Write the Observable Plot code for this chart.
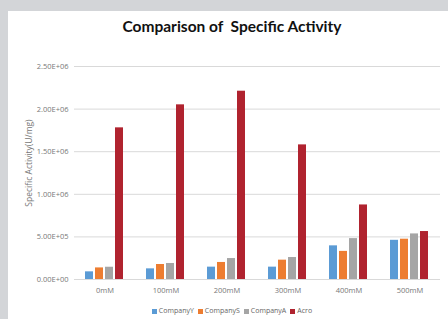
<!DOCTYPE html>
<html><head><meta charset="utf-8">
<script src="https://cdn.jsdelivr.net/npm/d3@7"></script>
<script src="https://cdn.jsdelivr.net/npm/@observablehq/plot@0.6"></script>
<style>
html,body{margin:0;padding:0;background:#d3d5d8;width:448px;height:319px;overflow:hidden;}
#panel{position:absolute;left:8px;top:11px;width:440px;height:308px;background:#fff;}
#title{position:absolute;left:0;top:6px;width:448px;text-align:center;font:bold 15.5px Lato,"Open Sans",sans-serif;color:#111;white-space:pre;}
#chart{position:absolute;left:0;top:35px;}
#legend{position:absolute;left:0;top:295px;width:448px;text-align:center;font:7px "Open Sans",sans-serif;color:#666;}
#legend span{margin:0 2px;}
#legend i{display:inline-block;width:5px;height:5px;margin-right:2px;vertical-align:-0.5px;}
</style></head>
<body>
<div id="panel">
<div id="title">Comparison of  Specific Activity</div>
<div id="chart"></div>
<div id="legend"></div>
</div>
<script>
const categories = ["0mM","100mM","200mM","300mM","400mM","500mM"];
const series = ["CompanyY","CompanyS","CompanyA","Acro"];
const colors = ["#5B9BD5","#ED7D31","#A5A5A5","#B0232F"];
const companyY = [9.0e4, 1.25e5, 1.45e5, 1.45e5, 3.95e5, 4.6e5];
const companyS = [1.36e5, 1.76e5, 2.0e5, 2.27e5, 3.3e5, 4.73e5];
const companyA = [1.44e5, 1.88e5, 2.46e5, 2.58e5, 4.8e5, 5.35e5];
const acro = [1.78e6, 2.05e6, 2.21e6, 1.58e6, 8.75e5, 5.63e5];
const yTicks = [0, 5e5, 1e6, 1.5e6, 2e6, 2.5e6];
const yLabel = "Specific Activity(U/mg)";

const valuesBySeries = [companyY, companyS, companyA, acro];
const data = [];
categories.forEach((c, i) => series.forEach((s, j) => data.push({cat: c, series: s, value: valuesBySeries[j][i]})));

function fmt(d) {
  if (d === 0) return "0.00E+00";
  const e = Math.floor(Math.log10(d));
  const m = d / Math.pow(10, e);
  return m.toFixed(2) + "E+" + String(e).padStart(2, "0");
}

const plot = Plot.plot({
  width: 440,
  height: 256,
  marginLeft: 64,
  marginRight: 6,
  marginTop: 20,
  marginBottom: 23,
  style: {fontFamily: "'Open Sans', sans-serif", fontSize: "7.5px", color: "#777", background: "transparent"},
  fx: {domain: categories, padding: 0, axis: "bottom", label: null, tickSize: 0, tickPadding: 8},
  x: {domain: series, paddingInner: 0.18, paddingOuter: 0.9, axis: null},
  y: {domain: [0, 2.5e6], axis: null},
  color: {domain: series, range: colors},
  marks: [
    Plot.ruleY(yTicks, {stroke: "#d9d9d9", strokeWidth: 1}),
    Plot.barY(data, {fx: "cat", x: "series", y: "value", fill: "series"}),
    Plot.axisY(yTicks, {ticks: yTicks, tickFormat: fmt, tickSize: 0, tickPadding: 6, label: null, fill: "#777"})
  ]
});
document.getElementById("chart").appendChild(plot);

const svg = d3.select(plot);
svg.append("text")
  .attr("transform", "translate(24,117) rotate(-90)")
  .attr("text-anchor", "middle")
  .attr("font-size", "8.5px")
  .attr("fill", "#777")
  .text(yLabel);

const legend = document.getElementById("legend");
series.forEach((s, j) => {
  const sp = document.createElement("span");
  const sw = document.createElement("i");
  sw.style.background = colors[j];
  sp.appendChild(sw);
  sp.appendChild(document.createTextNode(s));
  legend.appendChild(sp);
});
</script>
</body></html>
